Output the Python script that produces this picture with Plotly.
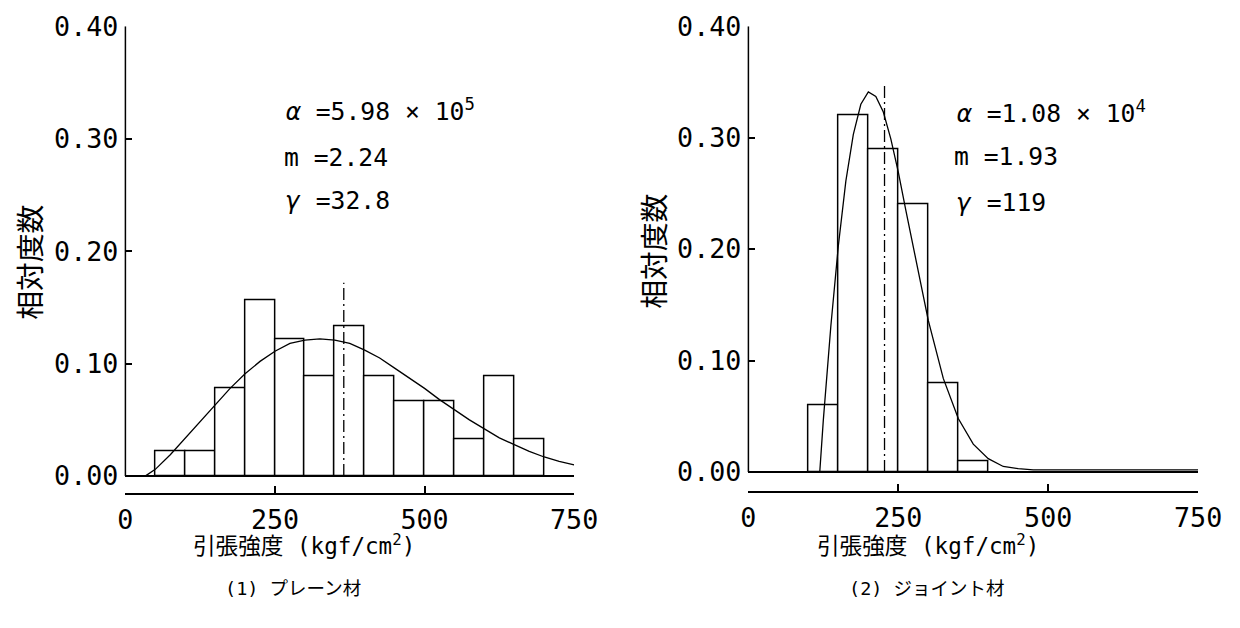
import plotly.graph_objects as go

# Positions are given in target-picture pixels. The photographed page comes out
# scaled by about S and offset, so the figure is laid out in page pixels.
S = 0.973
M = 8
DY = 9
W, H = 1258, 629


def fx(r):
    return (r / S - M) / W


def fy(r):
    return 1 - ((r - DY) / S - M) / H


def fs(size):
    return round(size / S, 1)


# ---- data ----
bin_width = 50
left_bin_start = [50, 100, 150, 200, 250, 300, 350, 400, 450, 500, 550, 600, 650]
left_freq = [0.022, 0.022, 0.078, 0.156, 0.122, 0.089, 0.133, 0.089, 0.067, 0.067, 0.033, 0.089, 0.033]
left_curve_x = [33, 50, 75, 100, 125, 150, 175, 200, 225, 250, 275, 300, 325, 350, 375, 400,
                425, 450, 475, 500, 525, 550, 575, 600, 625, 650, 675, 700, 725, 750]
left_curve_y = [0.0, 0.006, 0.019, 0.034, 0.049, 0.064, 0.078, 0.091, 0.102, 0.111, 0.118, 0.121,
                0.122, 0.121, 0.118, 0.112, 0.105, 0.096, 0.087, 0.078, 0.068, 0.059, 0.050, 0.042,
                0.034, 0.028, 0.022, 0.017, 0.013, 0.010]
left_mean_x = [365, 365]
left_mean_y = [0.0, 0.172]

right_bin_start = [100, 150, 200, 250, 300, 350]
right_freq = [0.06, 0.32, 0.29, 0.24, 0.08, 0.01]
right_curve_x = [119, 125, 137.5, 150, 162.5, 175, 187.5, 200, 212.5, 225, 237.5, 250, 262.5, 275,
                 287.5, 300, 325, 350, 375, 400, 425, 450, 475, 500, 550, 600, 650, 700, 750]
right_curve_y = [0.0, 0.047, 0.131, 0.203, 0.261, 0.303, 0.330, 0.341, 0.337, 0.323, 0.299, 0.269,
                 0.235, 0.201, 0.167, 0.136, 0.084, 0.048, 0.025, 0.012, 0.005, 0.003, 0.002, 0.002,
                 0.002, 0.002, 0.002, 0.002, 0.002]
right_mean_x = [227, 227]
right_mean_y = [0.0, 0.348]

x_ticks = [0, 250, 500, 750]
x_tick_text = ["0", "250", "500", "750"]
y_ticks = [0.0, 0.1, 0.2, 0.3, 0.4]
y_tick_text = ["0.00", "0.10", "0.20", "0.30", "0.40"]

y_title = "相対度数"
x_title = "引張強度 (kgf/cm<sup>2</sup>)"
sub_left = "(1) プレーン材"
sub_right = "(2) ジョイント材"
params_left = ["<i>α</i> =5.98 × 10<sup>5</sup>", "m =2.24", "<i>γ</i> =32.8"]
params_right = ["<i>α</i> =1.08 × 10<sup>4</sup>", "m =1.93", "<i>γ</i> =119"]

FONT = "DejaVu Sans Mono, Noto Sans CJK JP, monospace"
LW = 1.5
DASHDOT = "12px,4px,2px,4px"

fig = go.Figure()


def add_panel(xa, ya, starts, freq, cx, cy, mx, my):
    fig.add_trace(go.Bar(x=starts, y=freq, width=bin_width, offset=0,
                         marker=dict(color="white", line=dict(color="black", width=LW)),
                         xaxis=xa, yaxis=ya, showlegend=False, hoverinfo="skip"))
    fig.add_trace(go.Scatter(x=cx, y=cy, mode="lines", line=dict(color="black", width=1.3),
                             xaxis=xa, yaxis=ya, showlegend=False))
    fig.add_trace(go.Scatter(x=mx, y=my, mode="lines",
                             line=dict(color="black", width=1.3, dash=DASHDOT),
                             xaxis=xa, yaxis=ya, showlegend=False))


add_panel("x", "y", left_bin_start, left_freq, left_curve_x, left_curve_y, left_mean_x, left_mean_y)
add_panel("x2", "y2", right_bin_start, right_freq, right_curve_x, right_curve_y, right_mean_x, right_mean_y)

TICKFONT = dict(family=FONT, size=fs(26), color="black")


def xax(l, r, anchor):
    return dict(domain=[fx(l), fx(r)], anchor=anchor, range=[0, 750],
                tickvals=x_ticks, ticktext=x_tick_text,
                showgrid=False, zeroline=False, showline=True, linecolor="black", linewidth=LW,
                ticks="inside", ticklen=7, tickwidth=LW, tickcolor="black", ticklabelstandoff=2,
                tickfont=TICKFONT, fixedrange=True)


def yax(bottom, top, anchor, rng):
    return dict(domain=[fy(bottom), fy(top)], anchor=anchor, range=rng,
                tickvals=y_ticks, ticktext=y_tick_text,
                showgrid=False, zeroline=True, zerolinecolor="black", zerolinewidth=LW,
                showline=False, ticks="inside", ticklen=7, tickwidth=LW, tickcolor="black",
                ticklabelstandoff=6, tickfont=TICKFONT, fixedrange=True,
                ticklabeloverflow="allow")


fig.update_layout(
    width=W, height=H, margin=dict(l=0, r=0, t=0, b=0),
    paper_bgcolor="white", plot_bgcolor="white", bargap=0,
    xaxis=xax(125, 573, "y"),
    yaxis=yax(493, 27, "x", [-0.015, 0.4]),
    xaxis2=xax(747, 1196, "y2"),
    yaxis2=yax(491, 27, "x2", [-0.017, 0.4]),
)

# y axis lines (from 0 to 0.40 only)
for xr, yr in (("x", "y"), ("x2", "y2")):
    fig.add_shape(type="line", xref=f"{xr} domain", yref=yr, x0=0, x1=0, y0=0, y1=0.4,
                  line=dict(color="black", width=LW))


def ann(text, px, py, size, xanchor="left", angle=0):
    fig.add_annotation(text=text, x=fx(px), y=fy(py), xref="paper", yref="paper",
                       xanchor=xanchor, yanchor="middle", showarrow=False, textangle=angle,
                       font=dict(family=FONT, size=fs(size), color="black"))


ann(y_title, 30, 263, 28, "center", -90)
ann(y_title, 653, 252, 28, "center", -90)
ann(x_title, 303, 544, 22, "center")
ann(x_title, 926, 544, 22, "center")
ann(sub_left, 222, 588, 18)
ann(sub_right, 845, 588, 18)

for txt, px, py in zip(params_left, [283, 281, 283], [111, 158, 201]):
    ann(txt, px, py, 24)
for txt, px, py in zip(params_right, [953, 950, 953], [113, 157, 203]):
    ann(txt, px, py, 24)

fig.write_html("out.html", include_plotlyjs=True,
               config={"responsive": False, "displayModeBar": False})
